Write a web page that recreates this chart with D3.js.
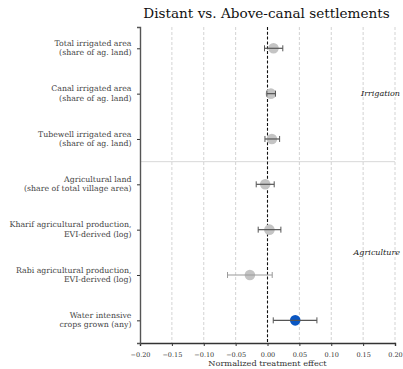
<html>
<head>
<meta charset="utf-8">
<script src="https://cdn.jsdelivr.net/npm/d3@7"></script>
<style>
body { margin:0; background:#fff; }
svg text { font-family: "DejaVu Serif", serif; }
</style>
</head>
<body>
<script>

var width = 403;
var height = 369;
var margin = {top:27, right:8, bottom:26, left:140};
var w = width - margin.left - margin.right;
var h = height - margin.top - margin.bottom;

// data
var labels = [
  ["Total irrigated area", "(share of ag. land)"],
  ["Canal irrigated area", "(share of ag. land)"],
  ["Tubewell irrigated area", "(share of ag. land)"],
  ["Agricultural land", "(share of total village area)"],
  ["Kharif agricultural production,", "EVI-derived (log)"],
  ["Rabi agricultural production,", "EVI-derived (log)"],
  ["Water intensive", "crops grown (any)"]
];
var estimate = [0.0094, 0.0053, 0.0069, -0.0036, 0.0030, -0.0276, 0.0435];
var ciLow    = [-0.0047, -0.0010, -0.0040, -0.0177, -0.0146, -0.0627, 0.0090];
var ciHigh   = [0.0240, 0.0125, 0.0190, 0.0105, 0.0210, 0.0074, 0.0775];
var significant = [false, false, false, false, false, false, true];
var xTicks = [-0.20, -0.15, -0.10, -0.05, 0.00, 0.05, 0.10, 0.15, 0.20];
var groups = [{name:"Irrigation", at:1}, {name:"Agriculture", at:4.5}];

var data = estimate.map(function(d, i) {
  return {i:i, label:labels[i], est:d, lo:ciLow[i], hi:ciHigh[i], sig:significant[i]};
});

var serif = "'DejaVu Serif', serif";

var x = d3.scaleLinear().domain([-0.2, 0.2]).range([0, w]);
var y = d3.scaleLinear().domain([-0.47, 6.5]).range([0, h]);

var svg = d3.select("body").append("svg")
    .attr("width", width)
    .attr("height", height)
  .append("g")
    .attr("transform", "translate(" + margin.left + "," + margin.top + ")");

// grid
svg.append("g").selectAll("line")
  .data(xTicks.filter(function(t){ return t > -0.2 && t != 0; }))
  .enter().append("line")
    .attr("x1", x).attr("x2", x)
    .attr("y1", 0).attr("y2", h)
    .attr("stroke", "#c8c8c8")
    .attr("stroke-width", 0.8)
    .attr("stroke-dasharray", "3,2");

// separator between groups
svg.append("line")
  .attr("x1", 0).attr("x2", w)
  .attr("y1", y(2.5)).attr("y2", y(2.5))
  .attr("stroke", "#cfcfcf")
  .attr("stroke-width", 0.8);

// zero line
svg.append("line")
  .attr("x1", x(0)).attr("x2", x(0))
  .attr("y1", 0).attr("y2", h)
  .attr("stroke", "#111")
  .attr("stroke-width", 1.1)
  .attr("stroke-dasharray", "3,1.8");

// points and error bars
var pt = svg.append("g").selectAll("g")
  .data(data)
  .enter().append("g");

pt.append("circle")
  .attr("cx", function(d){ return x(d.est); })
  .attr("cy", function(d){ return y(d.i); })
  .attr("r", 5.3)
  .attr("fill", function(d){ return d.sig ? "#0a56c2" : "#c4c4c4"; });

var barCol = function(d){ return d.i == 5 ? "#9a9a9a" : "#555"; };

pt.append("line")
  .attr("x1", function(d){ return x(d.lo); })
  .attr("x2", function(d){ return x(d.hi); })
  .attr("y1", function(d){ return y(d.i); })
  .attr("y2", function(d){ return y(d.i); })
  .attr("stroke", barCol)
  .attr("stroke-width", 1.2);

["lo", "hi"].forEach(function(k) {
  pt.append("line")
    .attr("x1", function(d){ return x(d[k]); })
    .attr("x2", function(d){ return x(d[k]); })
    .attr("y1", function(d){ return y(d.i) - 3; })
    .attr("y2", function(d){ return y(d.i) + 3; })
    .attr("stroke", barCol)
    .attr("stroke-width", 1);
});

// x axis
var xAxis = svg.append("g")
  .attr("transform", "translate(0," + h + ")")
  .call(d3.axisBottom(x).tickValues(xTicks).tickSize(3).tickPadding(6)
    .tickFormat(function(d){ return d3.format(".2f")(d).replace("-", "\u2212"); }));
xAxis.attr("font-family", serif);
xAxis.select(".domain").attr("stroke", "#333").attr("stroke-width", 1.4);
xAxis.selectAll(".tick line").attr("stroke", "#333");
xAxis.selectAll("text").attr("font-size", 6.5).attr("fill", "#333");

// y axis
var yAxis = svg.append("g")
  .call(d3.axisLeft(y).tickValues(d3.range(labels.length)).tickSize(3).tickFormat(""));
yAxis.select(".domain").attr("stroke", "#555").attr("stroke-width", 1.4);
yAxis.selectAll(".tick line").attr("stroke", "#333");

var yl = svg.append("g").selectAll("text")
  .data(data)
  .enter().append("text")
    .attr("x", -8.5)
    .attr("y", function(d){ return y(d.i); })
    .attr("text-anchor", "end")
    .attr("font-family", serif)
    .attr("font-size", 7.8)
    .attr("fill", "#444");
yl.append("tspan").attr("x", -8.5).attr("dy", "-0.3em").text(function(d){ return d.label[0]; });
yl.append("tspan").attr("x", -8.5).attr("dy", "1.2em").text(function(d){ return d.label[1]; });

// group labels
svg.append("g").selectAll("text")
  .data(groups)
  .enter().append("text")
    .attr("x", w + 5)
    .attr("y", function(d){ return y(d.at); })
    .attr("dy", "0.35em")
    .attr("text-anchor", "end")
    .attr("font-family", serif)
    .attr("font-size", 8)
    .attr("font-style", "italic")
    .attr("fill", "#222")
    .text(function(d){ return d.name; });

// title
svg.append("text")
  .attr("x", w / 2 - 1)
  .attr("y", -9)
  .attr("text-anchor", "middle")
  .attr("font-family", serif)
  .attr("font-size", 13.6)
  .attr("fill", "#111")
  .text("Distant vs. Above-canal settlements");

svg.append("text")
  .attr("x", w / 2)
  .attr("y", h + 23)
  .attr("text-anchor", "middle")
  .attr("font-family", serif)
  .attr("font-size", 8.2)
  .attr("fill", "#333")
  .text("Normalized treatment effect");

</script>
</body>
</html>
